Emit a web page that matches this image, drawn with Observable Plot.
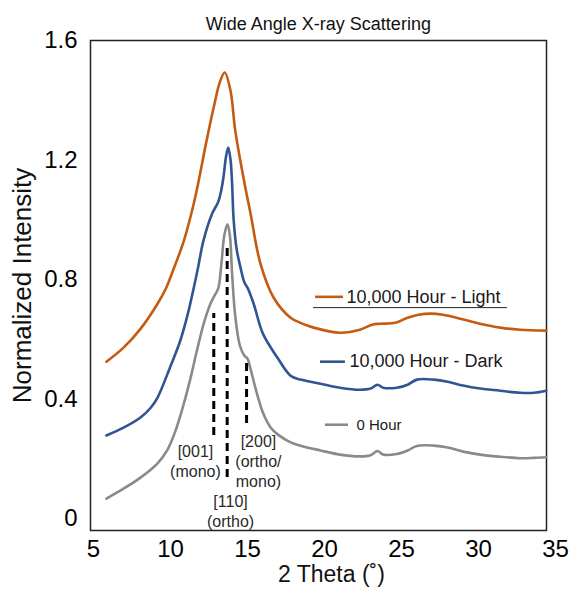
<!DOCTYPE html>
<html>
<head>
<meta charset="utf-8">
<script src="https://cdn.jsdelivr.net/npm/d3@7"></script>
<script src="https://cdn.jsdelivr.net/npm/@observablehq/plot@0.6"></script>
<style>
  html, body { margin: 0; padding: 0; background: #fff; }
  svg { display: block; }
</style>
</head>
<body>
<div id="chart"></div>
<script>
// ---- Data ----
const seriesNames = ["10,000 Hour - Light", "10,000 Hour - Dark", "0 Hour"];
const seriesColors = ["#C55A11", "#2F5592", "#8A8A8A"];

const lightTheta = [5.84, 6.95, 8.05, 9.16, 9.7, 10.2, 10.84, 11.3, 11.75, 12.3, 12.8, 13.2, 13.52, 13.9, 14.2, 14.74, 15.2, 15.84, 16.7, 17.8, 18.44, 19.3, 21.0, 22.3, 23.1, 23.6, 24.6, 25.4, 26.1, 26.9, 27.7, 28.8, 30.1, 31.4, 32.7, 34.4];
const lightIntensity = [0.525, 0.572, 0.635, 0.719, 0.77, 0.835, 0.925, 1.01, 1.11, 1.254, 1.375, 1.46, 1.493, 1.431, 1.30, 1.14, 1.02, 0.853, 0.739, 0.672, 0.655, 0.639, 0.622, 0.632, 0.649, 0.652, 0.655, 0.672, 0.682, 0.686, 0.682, 0.669, 0.652, 0.639, 0.632, 0.629];

const darkTheta = [5.84, 6.95, 8.05, 8.7, 9.16, 10.0, 10.6, 11.1, 11.75, 12.14, 12.7, 13.1, 13.3, 13.46, 13.6, 13.75, 13.9, 14.0, 14.1, 14.3, 14.55, 14.8, 15.0, 15.4, 16.0, 16.95, 17.8, 18.44, 19.74, 21.0, 22.3, 23.0, 23.44, 23.8, 24.7, 25.4, 26.0, 27.1, 28.0, 29.0, 30.1, 31.4, 32.7, 33.6, 34.4];
const darkIntensity = [0.278, 0.304, 0.338, 0.37, 0.405, 0.51, 0.59, 0.68, 0.83, 0.93, 1.02, 1.06, 1.10, 1.15, 1.21, 1.242, 1.20, 1.12, 1.00, 0.90, 0.839, 0.79, 0.773, 0.719, 0.619, 0.538, 0.478, 0.465, 0.451, 0.438, 0.431, 0.435, 0.448, 0.438, 0.438, 0.448, 0.465, 0.465, 0.458, 0.445, 0.435, 0.428, 0.421, 0.421, 0.428];

const zeroTheta = [5.84, 6.95, 8.05, 9.16, 9.8, 10.3, 10.84, 11.3, 11.75, 12.2, 12.6, 12.85, 13.1, 13.3, 13.5, 13.7, 13.85, 14.0, 14.2, 14.5, 14.8, 15.0, 15.2, 15.5, 16.0, 16.5, 17.0, 17.8, 18.44, 19.74, 21.0, 22.3, 23.0, 23.44, 23.8, 24.7, 25.4, 26.0, 27.1, 28.0, 29.0, 30.1, 31.4, 32.7, 33.6, 34.4];
const zeroIntensity = [0.067, 0.10, 0.137, 0.185, 0.23, 0.29, 0.38, 0.47, 0.57, 0.66, 0.72, 0.745, 0.77, 0.85, 0.95, 0.985, 0.95, 0.82, 0.68, 0.58, 0.545, 0.535, 0.50, 0.44, 0.355, 0.305, 0.28, 0.255, 0.244, 0.228, 0.214, 0.208, 0.212, 0.226, 0.214, 0.216, 0.228, 0.243, 0.244, 0.238, 0.224, 0.214, 0.207, 0.202, 0.203, 0.205];

const xTicks = [5, 10, 15, 20, 25, 30, 35];
const yTicks = [0, 0.4, 0.8, 1.2, 1.6];

// peak markers (dashed lines) and their labels
const peakTheta = [12.81, 13.68, 14.94];
const peakTop = [0.686, 0.92, 0.522];
const peakBottom = [0.278, 0.137, 0.318];
const peakLabels = ["[001]\n(mono)", "[110]\n(ortho)", "[200]\n(ortho/\nmono)"];
const peakLabelTheta = [11.62, 13.9, 15.71];
const peakLabelIntensity = [0.194, 0.027, 0.194];

// inline legend entries
const legendX1 = [19.42, 19.74, 20.06];
const legendX2 = [21.23, 21.36, 21.56];
const legendTextX = [21.43, 21.62, 22.08];
const legendY = [0.742, 0.525, 0.314];
const legendFontSize = [18, 18, 15];

// ---- Build tables ----
function series(theta, inten, name) {
  return theta.map((t, i) => ({theta: t, intensity: inten[i], series: name}));
}
const lines = [
  series(lightTheta, lightIntensity, seriesNames[0]),
  series(darkTheta, darkIntensity, seriesNames[1]),
  series(zeroTheta, zeroIntensity, seriesNames[2])
];
const peaks = peakTheta.map((x, i) => ({x, y1: peakBottom[i], y2: peakTop[i]}));
const pLabels = peakLabels.map((t, i) => ({text: t, x: peakLabelTheta[i], y: peakLabelIntensity[i]}));
const legend = seriesNames.map((n, i) => ({name: n, x1: legendX1[i], x2: legendX2[i], tx: legendTextX[i], y: legendY[i], color: seriesColors[i], fs: legendFontSize[i]}));

const font = "'Liberation Sans', Arial, sans-serif";

const marks = [
  Plot.frame({stroke: "#222", strokeWidth: 1.5, insetLeft: -3, insetRight: 9}),
  Plot.axisX(xTicks, {ticks: xTicks, tickSize: 0, tickPadding: 9, fontSize: 24, fill: "#000", label: null, tickFormat: d => String(d)}),
  Plot.axisY(yTicks, {ticks: yTicks, tickSize: 0, tickPadding: 16, fontSize: 24, fill: "#000", label: null, tickFormat: d => String(d)})
];
lines.forEach((d, i) => {
  marks.push(Plot.line(d, {x: "theta", y: "intensity", stroke: seriesColors[i], strokeWidth: 2.6, curve: "catmull-rom"}));
});
marks.push(
  Plot.ruleX(peaks, {x: "x", y1: "y1", y2: "y2", stroke: "#000", strokeWidth: 3, strokeDasharray: "8,5"}),
  Plot.text(pLabels, {x: "x", y: "y", text: "text", fontSize: 16, lineHeight: 1.25, fill: "#2a2a2a", fontFamily: font}),
  Plot.ruleY(legend, {x1: "x1", x2: "x2", y: "y", stroke: "color", strokeWidth: 2.6}),
  Plot.text(legend, {x: "tx", y: "y", text: "name", textAnchor: "start", fontSize: d => d.fs, fill: "#1a1a1a", fontFamily: font}),
  Plot.ruleY([legend[0]], {x1: 19.29, x2: 31.88, y: 0.706, stroke: "#222", strokeWidth: 1}),
  Plot.text(["Wide Angle X-ray Scattering"], {x: 19.6, frameAnchor: "top", dy: -23, fontSize: 18, fill: "#111", fontFamily: font}),
  Plot.text(["2 Theta (˚)"], {x: 20.45, frameAnchor: "bottom", dy: 51, fontSize: 23, fill: "#111", fontFamily: font}),
  Plot.text(["Normalized Intensity"], {frameAnchor: "left", dx: -71, rotate: -90, textAnchor: "middle", fontSize: 26, fill: "#111", fontFamily: font})
);

const chart = Plot.plot({
  width: 576,
  height: 592,
  marginLeft: 93,
  marginRight: 21,
  marginTop: 40,
  marginBottom: 62,
  style: {fontFamily: font, background: "#fff", overflow: "visible"},
  x: {domain: [5, 35]},
  y: {domain: [-0.04, 1.6]},
  marks
});
document.getElementById("chart").appendChild(chart);
</script>
</body>
</html>
